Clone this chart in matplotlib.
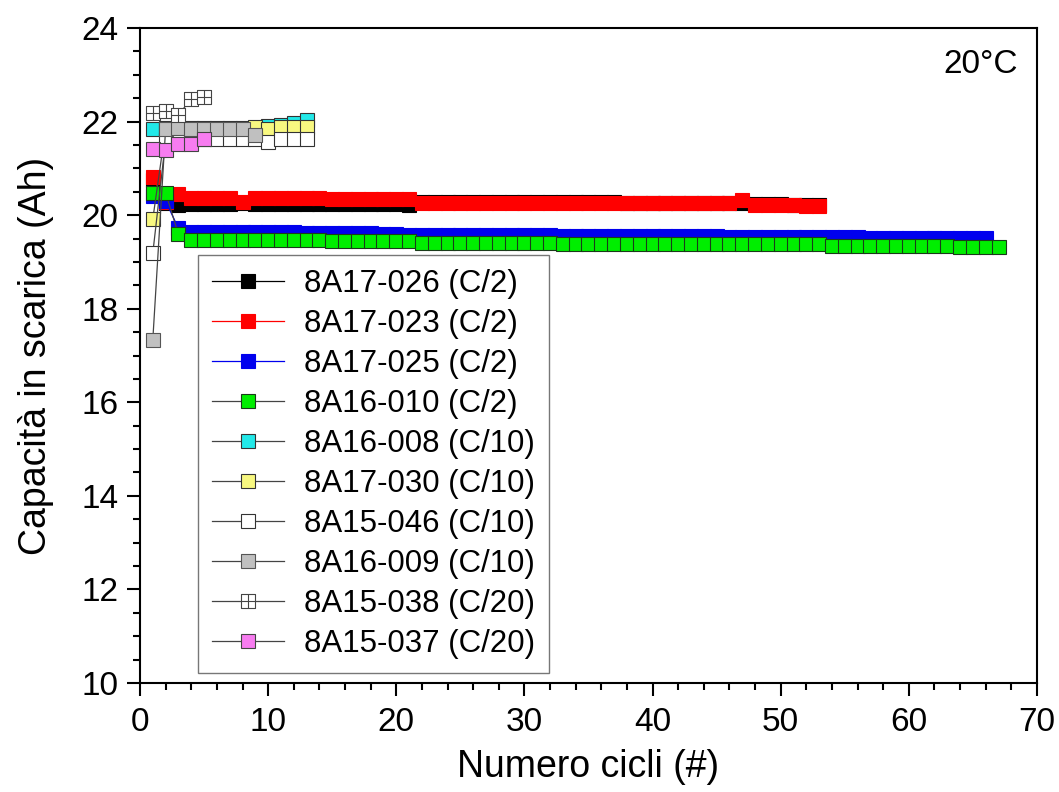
import numpy as np
import matplotlib
matplotlib.use("Agg")
import matplotlib.pyplot as plt
from matplotlib.path import Path
from matplotlib.ticker import MultipleLocator

plt.rcParams["font.family"] = ["Liberation Sans", "DejaVu Sans"]

# cicli
cyc_53 = np.arange(1, 54)
cyc_66 = np.arange(1, 67)
cyc_67 = np.arange(1, 68)

# 8A17-026 (C/2)
cap_026 = [20.75, 20.26, 20.22, 20.24, 20.24, 20.24, 20.24, 20.25, 20.24, 20.24,
           20.24, 20.24, 20.24, 20.24, 20.24, 20.23, 20.23, 20.23, 20.23, 20.23,
           20.22, 20.29, 20.29, 20.29, 20.29, 20.29, 20.29, 20.29, 20.29, 20.29,
           20.29, 20.28, 20.28, 20.28, 20.28, 20.28, 20.28, 20.27, 20.27, 20.27,
           20.27, 20.27, 20.26, 20.26, 20.26, 20.26, 20.26, 20.23, 20.23, 20.23,
           20.22, 20.22, 20.21]
# 8A17-023 (C/2)
cap_023 = [20.81, 20.28, 20.46, 20.37, 20.37, 20.37, 20.37, 20.29, 20.36, 20.36,
           20.36, 20.36, 20.36, 20.36, 20.35, 20.35, 20.35, 20.35, 20.35, 20.35,
           20.35, 20.26, 20.26, 20.27, 20.27, 20.27, 20.27, 20.26, 20.26, 20.26,
           20.26, 20.26, 20.26, 20.26, 20.26, 20.26, 20.25, 20.25, 20.25, 20.25,
           20.25, 20.25, 20.25, 20.25, 20.25, 20.25, 20.33, 20.22, 20.22, 20.22,
           20.21, 20.2, 20.19]
# 8A17-025 (C/2)
cap_025 = [20.42, 20.3, 19.72, 19.63, 19.63, 19.63, 19.63, 19.63, 19.63, 19.63,
           19.63, 19.63, 19.62, 19.62, 19.62, 19.61, 19.61, 19.61, 19.6, 19.6,
           19.58, 19.57, 19.57, 19.57, 19.57, 19.57, 19.57, 19.57, 19.57, 19.57,
           19.57, 19.57, 19.56, 19.56, 19.56, 19.56, 19.56, 19.56, 19.56, 19.56,
           19.55, 19.55, 19.55, 19.55, 19.55, 19.54, 19.54, 19.54, 19.53, 19.53,
           19.53, 19.53, 19.53, 19.53, 19.53, 19.53, 19.52, 19.52, 19.52, 19.52,
           19.52, 19.52, 19.51, 19.51, 19.51, 19.51]
# 8A16-010 (C/2)
cap_010 = [20.48, 20.48, 19.59, 19.48, 19.48, 19.48, 19.48, 19.48, 19.47, 19.47,
           19.47, 19.47, 19.47, 19.47, 19.45, 19.45, 19.45, 19.45, 19.45, 19.45,
           19.45, 19.41, 19.41, 19.41, 19.41, 19.41, 19.41, 19.41, 19.41, 19.41,
           19.41, 19.41, 19.38, 19.38, 19.38, 19.38, 19.38, 19.38, 19.38, 19.38,
           19.38, 19.38, 19.38, 19.38, 19.38, 19.38, 19.38, 19.38, 19.38, 19.38,
           19.38, 19.38, 19.38, 19.35, 19.35, 19.35, 19.35, 19.35, 19.35, 19.35,
           19.35, 19.35, 19.35, 19.33, 19.33, 19.33, 19.33]

cyc_13 = np.arange(1, 14)
cyc_9 = np.arange(1, 10)
cyc_5 = np.arange(1, 6)
# C/10
cap_008 = [21.85, 21.87, 21.86, 21.86, 21.86, 21.86, 21.86, 21.87, 21.86, 21.9,
           21.93, 21.96, 22.04]
cap_030 = [19.92, 21.85, 21.85, 21.85, 21.85, 21.85, 21.85, 21.85, 21.89, 21.84,
           21.88, 21.88, 21.88]
cap_046 = [19.19, 21.6, 21.62, 21.62, 21.62, 21.62, 21.62, 21.62, 21.62, 21.56,
           21.62, 21.62, 21.62]
cap_009 = [17.34, 21.85, 21.86, 21.85, 21.85, 21.85, 21.85, 21.85, 21.71]
# C/20
cap_038 = [22.18, 22.23, 22.15, 22.48, 22.53]
cap_037 = [21.41, 21.40, 21.53, 21.52, 21.63]

# quadrato con croce interna
box_cross = Path(
    [(-1, -1), (1, -1), (1, 1), (-1, 1), (-1, -1), (0, -1), (0, 1), (-1, 0), (1, 0)],
    [Path.MOVETO, Path.LINETO, Path.LINETO, Path.LINETO, Path.CLOSEPOLY,
     Path.MOVETO, Path.LINETO, Path.MOVETO, Path.LINETO])

fig = plt.figure(figsize=(10.59, 7.92), dpi=100)
ax = fig.add_axes([0.1322, 0.1376, 0.8470, 0.8270])

ms = 9.5
grey_line = "#444444"
series = [
    (cyc_53, cap_026, "8A17-026 (C/2)", "black", "black", "black", "s"),
    (cyc_53, cap_023, "8A17-023 (C/2)", "red", "red", "red", "s"),
    (cyc_66, cap_025, "8A17-025 (C/2)", "#0000ee", "#0000ee", "#0000ee", "s"),
    (cyc_67, cap_010, "8A16-010 (C/2)", "#00ee00", "#1a3a1a", grey_line, "s"),
    (cyc_13, cap_008, "8A16-008 (C/10)", "#22e8e8", "#333333", grey_line, "s"),
    (cyc_13, cap_030, "8A17-030 (C/10)", "#f8f880", "#333333", grey_line, "s"),
    (cyc_13, cap_046, "8A15-046 (C/10)", "white", "#333333", grey_line, "s"),
    (cyc_9, cap_009, "8A16-009 (C/10)", "#c0c0c0", "#555555", grey_line, "s"),
    (cyc_5, cap_038, "8A15-038 (C/20)", "white", "#444444", grey_line, box_cross),
    (cyc_5, cap_037, "8A15-037 (C/20)", "#f77cf0", "#444444", grey_line, "s"),
]

for x, y, lab, fc, ec, lc, mk in series:
    ax.plot(x, y, color=lc, lw=0.9, marker=mk, ms=ms, mfc=fc, mec=ec,
            mew=0.8, label=lab)

ax.set_xlim(0, 70)
ax.set_ylim(10, 24)
ax.xaxis.set_major_locator(MultipleLocator(10))
ax.xaxis.set_minor_locator(MultipleLocator(2))
ax.yaxis.set_major_locator(MultipleLocator(2))
ax.yaxis.set_minor_locator(MultipleLocator(0.5))
ax.tick_params(which="major", direction="out", length=9.5, width=1.5,
               labelsize=24, pad=6)
ax.tick_params(which="minor", direction="out", length=5, width=1.5)
ax.tick_params(axis="x", pad=8)
for s in ax.spines.values():
    s.set_linewidth(1.5)

ax.set_xlabel("Numero cicli (#)", fontsize=27, labelpad=8)
ax.set_ylabel("Capacità in scarica (Ah)", fontsize=27, labelpad=20)

ax.text(0.979, 0.945, "20°C", transform=ax.transAxes, ha="right",
        va="center", fontsize=24)

leg = ax.legend(loc="upper left", bbox_to_anchor=(0.0647, 0.653),
                borderaxespad=0, fontsize=22.5, handlelength=2.3,
                handletextpad=0.65, labelspacing=0.32, borderpad=0.45,
                fancybox=False, framealpha=1, edgecolor="#777777")
leg.get_frame().set_linewidth(1.0)

plt.savefig("out.png", dpi=100)
